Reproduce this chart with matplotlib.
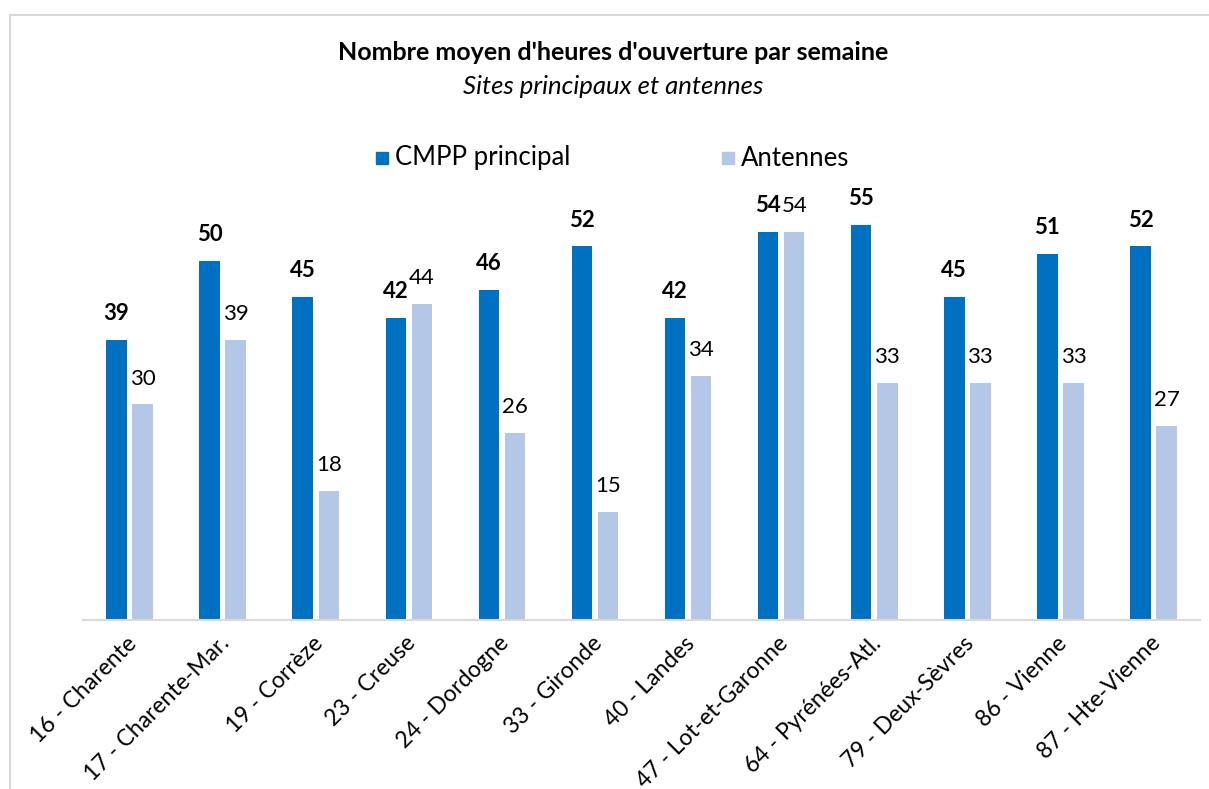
import numpy as np
import matplotlib.pyplot as plt
import matplotlib.transforms as mtransforms
from matplotlib.patches import Rectangle

plt.rcParams['font.family'] = ['Lato', 'DejaVu Sans']

departements = ["16 - Charente", "17 - Charente-Mar.", "19 - Corrèze", "23 - Creuse",
                "24 - Dordogne", "33 - Gironde", "40 - Landes", "47 - Lot-et-Garonne",
                "64 - Pyrénées-Atl.", "79 - Deux-Sèvres", "86 - Vienne", "87 - Hte-Vienne"]
cmpp = [39, 50, 45, 42, 46, 52, 42, 54, 55, 45, 51, 52]
antennes = [30, 39, 18, 44, 26, 15, 34, 54, 33, 33, 33, 27]

dark = "#0070C0"
light = "#B4C7E7"

fig = plt.figure(figsize=(12.09, 7.89), dpi=100)
ax = fig.add_axes([0.0687, 0.2142, 0.9239, 0.5463])

x = np.arange(len(departements))
w = 0.22
ax.bar(x - 0.14, cmpp, w, color=dark)
ax.bar(x + 0.14, antennes, w, color=light)

for i in range(len(x)):
    ax.text(x[i] - 0.14, cmpp[i] + 2.2, str(cmpp[i]), ha='center', va='bottom',
            fontsize=16, fontweight='bold')
    ax.text(x[i] + 0.14, antennes[i] + 2.2, str(antennes[i]), ha='center', va='bottom',
            fontsize=16)

ax.set_xlim(-0.5, len(x) - 0.5)
ax.set_ylim(0, 60)
ax.set_yticks([])
ax.set_xticks(x)
ax.set_xticklabels(departements, rotation=45, ha='right', rotation_mode='anchor', fontsize=16.5)
ax.tick_params(axis='x', length=0, pad=9)
# nudge the rotated labels a little to the left
shift = mtransforms.ScaledTranslation(-4 / 100, 0, fig.dpi_scale_trans)
for lab in ax.get_xticklabels():
    lab.set_transform(lab.get_transform() + shift)
for s in ['top', 'right', 'left']:
    ax.spines[s].set_visible(False)
ax.spines['bottom'].set_color('#D9D9D9')
ax.spines['bottom'].set_linewidth(1.5)

fig.text(0.507, 0.934, "Nombre moyen d'heures d'ouverture par semaine", ha='center', va='center',
         fontsize=18, fontweight='bold')
fig.text(0.507, 0.891, "Sites principaux et antennes", ha='center', va='center',
         fontsize=18.5, style='italic')

# legend
fig.patches.append(Rectangle((376 / 1209, 1 - 164 / 789), 12 / 1209, 12 / 789,
                             transform=fig.transFigure, color=dark))
fig.text(395 / 1209, 1 - 158 / 789, "CMPP principal", va='center', fontsize=18.5)
fig.patches.append(Rectangle((722 / 1209, 1 - 164 / 789), 12 / 1209, 12 / 789,
                             transform=fig.transFigure, color=light))
fig.text(741 / 1209, 1 - 158 / 789, "Antennes", va='center', fontsize=18.5)

# chart border
fig.patches.append(Rectangle((10 / 1209, -0.05), 1.2, 1 - 15 / 789 + 0.05, transform=fig.transFigure,
                             fill=False, edgecolor='#D9D9D9', linewidth=1.5))

fig.savefig("out.png", dpi=100)
